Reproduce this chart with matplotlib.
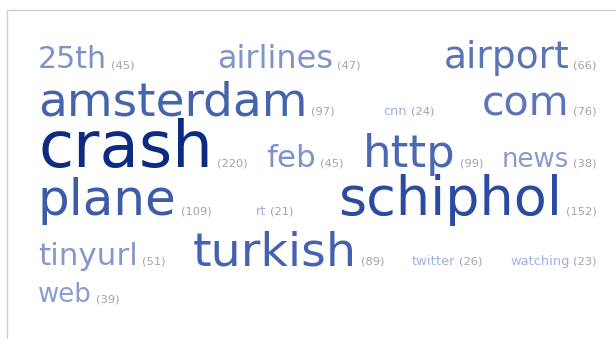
import matplotlib.pyplot as plt

# tag cloud data (alphabetical, as in the picture)
words = ['25th', 'airlines', 'airport', 'amsterdam', 'cnn', 'com', 'crash', 'feb',
         'http', 'news', 'plane', 'rt', 'schiphol', 'tinyurl', 'turkish',
         'twitter', 'watching', 'web']
counts = [45, 47, 66, 97, 24, 76, 220, 45, 99, 38, 109, 21, 152, 51, 89, 26, 23, 39]

# styling (font size in pixels, word colour)
sizes_px = [30, 32, 37.5, 47, 13, 41, 64, 31, 45, 26, 50, 13, 54, 31, 47.5, 13, 13, 26]
colors = ['#7c92c8', '#7f94c8', '#5a74b5', '#4663ad', '#9fb1e0', '#5b76b8',
          '#0d2b82', '#7c92c8', '#4c68b0', '#8a9bc9', '#3e5ba8', '#9fb1e0',
          '#2b4aa0', '#8797cc', '#4462ad', '#9fb1e0', '#9fb1e0', '#8d9ccf']
count_color = '#a3a3aa'
count_px = 11.5

# layout of the cloud box
x_left, x_right = 38, 597
row_baselines = [68, 115, 167, 215, 265, 302]
min_gap = 8

fig = plt.figure(figsize=(6.16, 3.39), dpi=100)
ax = fig.add_axes([0, 0, 1, 1])
ax.set_xlim(0, 616)
ax.set_ylim(339, 0)
ax.axis('off')

# frame lines
ax.plot([7, 616], [10, 10], color='#cfcfcf', lw=1)
ax.plot([7, 7], [10, 339], color='#cfcfcf', lw=1)

renderer = fig.canvas.get_renderer()

# build word + count pairs and measure them
items = []
for i in range(len(words)):
    t1 = ax.text(0, 0, words[i], fontsize=sizes_px[i] * 0.72, color=colors[i],
                 family='DejaVu Sans', va='baseline', ha='left')
    t2 = ax.text(0, 0, '(' + str(counts[i]) + ')', fontsize=count_px * 0.72,
                 color=count_color, family='DejaVu Sans', va='baseline', ha='left')
    w1 = t1.get_window_extent(renderer).width
    w2 = t2.get_window_extent(renderer).width
    items.append((t1, t2, w1, w2, w1 + 4 + w2))

# greedy wrap into rows
rows = [[]]
used = 0
for it in items:
    if rows[-1] and used + min_gap + it[4] > x_right - x_left:
        rows.append([])
        used = 0
    if rows[-1]:
        used += min_gap
    used += it[4]
    rows[-1].append(it)

# justified placement (last row left aligned)
for r, row in enumerate(rows):
    total = sum(it[4] for it in row)
    if r < len(rows) - 1 and len(row) > 1:
        gap = (x_right - x_left - total) / (len(row) - 1)
    else:
        gap = min_gap + 10
    x = x_left
    y = row_baselines[r]
    for t1, t2, w1, w2, w in row:
        t1.set_position((x, y))
        t2.set_position((x + w1 + 4, y))
        x += w + gap

fig.savefig('out.png', dpi=100, facecolor='white')
